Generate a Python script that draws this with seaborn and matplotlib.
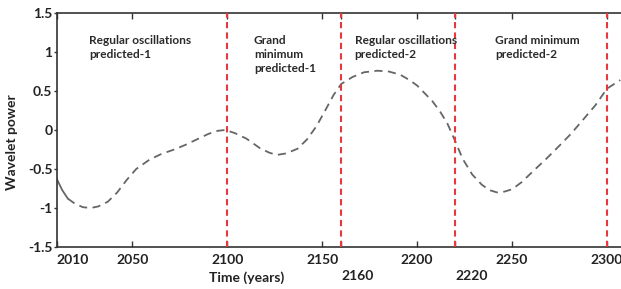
import matplotlib
matplotlib.use('Agg')
import matplotlib.pyplot as plt
import seaborn as sns
import pandas as pd

# observed start (solid) and predicted curve (dashed)
obs_years = [2010, 2013, 2016]
obs_power = [-0.62, -0.77, -0.88]

pred_years = [2016, 2020, 2024, 2028, 2032, 2037, 2042, 2047, 2052, 2059, 2065, 2072,
              2078, 2084, 2090, 2095, 2099, 2104, 2110, 2117, 2122, 2126, 2131, 2137,
              2142, 2147, 2152, 2156, 2160, 2166, 2172, 2179, 2185, 2191, 2196, 2200,
              2204, 2208, 2212, 2216, 2220, 2224, 2229, 2234, 2238, 2242, 2246, 2250,
              2255, 2261, 2268, 2275, 2281, 2287, 2294, 2300, 2307]
pred_power = [-0.88, -0.95, -0.99, -1.00, -0.98, -0.92, -0.80, -0.64, -0.50, -0.38, -0.31, -0.25,
              -0.19, -0.12, -0.05, -0.01, 0.00, -0.04, -0.11, -0.23, -0.29, -0.32, -0.30, -0.24,
              -0.12, 0.05, 0.27, 0.45, 0.59, 0.68, 0.74, 0.76, 0.75, 0.71, 0.64, 0.57,
              0.47, 0.37, 0.24, 0.08, -0.14, -0.37, -0.57, -0.70, -0.77, -0.80, -0.79, -0.76,
              -0.67, -0.53, -0.37, -0.20, -0.05, 0.12, 0.32, 0.53, 0.64]

phase_bounds = [2100, 2160, 2220, 2300]
phase_labels = ["Regular oscillations\npredicted-1", "Grand\nminimum\npredicted-1",
                "Regular oscillations\npredicted-2", "Grand minimum\npredicted-2"]
phase_label_x = [2027, 2114, 2167, 2241]

xticks = [2010, 2050, 2100, 2150, 2160, 2200, 2220, 2250, 2300]
xtick_labels = ["2010", "2050", "2100", "2150", "\n2160", "2200", "\n2220", "2250", "2300"]
yticks = [-1.5, -1, -0.5, 0, 0.5, 1, 1.5]
ytick_labels = ["-1.5", "-1", "-0.5", "0", "0.5", "1", "1.5"]

sns.set_style("white")
plt.rcParams['font.family'] = ['Lato', 'DejaVu Sans']

fig = plt.figure(figsize=(6.21, 2.89), dpi=100)
ax = fig.add_axes([56.5 / 621, 1 - 247 / 289, 1 - 56.5 / 621, 234 / 289])

obs = pd.DataFrame({'year': obs_years, 'power': obs_power})
pred = pd.DataFrame({'year': pred_years, 'power': pred_power})
sns.lineplot(data=obs, x='year', y='power', ax=ax, color='#666666', lw=1.3)
sns.lineplot(data=pred, x='year', y='power', ax=ax, color='#666666', lw=1.3,
             dashes=False, linestyle=(0, (4.5, 3)))

for b in phase_bounds:
    ax.axvline(b, color='#e8383d', lw=1.5, linestyle=(0, (3, 2)), zorder=3)

for lx, lab in zip(phase_label_x, phase_labels):
    ax.text(lx, 1.22, lab, fontsize=8.6, fontweight='bold', color='#2a2a2a',
            ha='left', va='top', linespacing=1.35)

ax.set_xlim(2010, 2307.4)
ax.set_ylim(-1.5, 1.5)
ax.set_xticks(xticks)
ax.set_xticklabels(xtick_labels, fontsize=10, fontweight='bold', color='#222222')
for t in ax.get_xticklabels():
    if t.get_text() in ("2010", "\n2160", "\n2220"):
        t.set_ha('left')
    if t.get_text().startswith("\n"):
        t.set_linespacing(1.45)
ax.set_yticks(yticks)
ax.set_yticklabels(ytick_labels, fontsize=10, fontweight='bold', color='#222222')

ax.tick_params(axis='x', direction='in', length=4, width=1, top=True, bottom=True,
               pad=5, color='#333333')
ax.tick_params(axis='y', direction='out', length=2, width=1, left=True, pad=1,
               color='#333333')

for s in ['left', 'bottom', 'top']:
    ax.spines[s].set_color('#333333')
    ax.spines[s].set_linewidth(1.2)
ax.spines['right'].set_visible(False)

ax.set_xlabel('')
ax.set_ylabel('Wavelet power', fontsize=10, fontweight='bold', color='#222222')
ax.yaxis.set_label_coords(-0.068, 0.45)
ax.text(0.3375, -0.13, 'Time (years)', transform=ax.transAxes, fontsize=10,
        fontweight='bold', color='#222222', ha='center', va='center')

fig.savefig('out.png', dpi=100)
